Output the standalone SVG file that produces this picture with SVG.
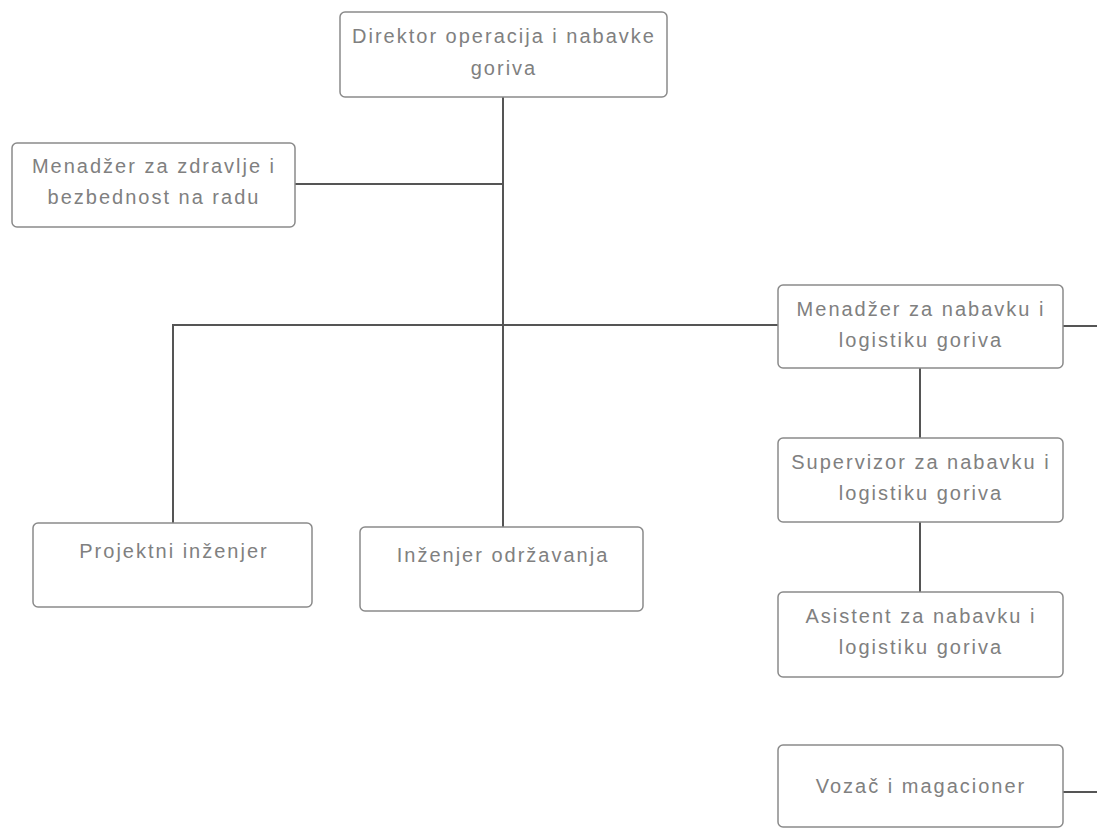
<svg xmlns="http://www.w3.org/2000/svg" width="1097" height="828" viewBox="0 0 1097 828">
<style>
.box{fill:#fff;stroke:#8a8a8a;stroke-width:1.5}
.t{font-family:"Liberation Sans",Arial,sans-serif;font-size:20px;fill:#808080;text-anchor:middle;letter-spacing:2px}
.c{stroke:#555;stroke-width:2;fill:none}
</style>
<rect width="1097" height="828" fill="#fff"/>
<g id="connectors">
<path class="c" d="M503 97V527"/>
<path class="c" d="M295 184H503"/>
<path class="c" d="M173 523V325H778"/>
<path class="c" d="M1063 326H1097"/>
<path class="c" d="M920 368V438"/>
<path class="c" d="M920 522V592"/>
<path class="c" d="M1063 792H1097"/>
</g>
<g id="director">
<rect class="box" x="340" y="12" width="327" height="85" rx="5"/>
<text class="t" x="504" y="43">Direktor operacija i nabavke</text>
<text class="t" x="504" y="75">goriva</text>
</g>
<g id="health">
<rect class="box" x="12" y="143" width="283" height="84" rx="5"/>
<text class="t" x="154" y="173">Menadžer za zdravlje i</text>
<text class="t" x="154" y="204">bezbednost na radu</text>
</g>
<g id="procurement-manager">
<rect class="box" x="778" y="285" width="285" height="83" rx="5"/>
<text class="t" x="921" y="316">Menadžer za nabavku i</text>
<text class="t" x="921" y="347">logistiku goriva</text>
</g>
<g id="project-engineer">
<rect class="box" x="33" y="523" width="279" height="84" rx="5"/>
<text class="t" x="174" y="558">Projektni inženjer</text>
</g>
<g id="maintenance-engineer">
<rect class="box" x="360" y="527" width="283" height="84" rx="5"/>
<text class="t" x="503" y="562">Inženjer održavanja</text>
</g>
<g id="supervisor">
<rect class="box" x="778" y="438" width="285" height="84" rx="5"/>
<text class="t" x="921" y="469">Supervizor za nabavku i</text>
<text class="t" x="921" y="500">logistiku goriva</text>
</g>
<g id="assistant">
<rect class="box" x="778" y="592" width="285" height="85" rx="5"/>
<text class="t" x="921" y="623">Asistent za nabavku i</text>
<text class="t" x="921" y="654">logistiku goriva</text>
</g>
<g id="driver">
<rect class="box" x="778" y="745" width="285" height="82" rx="5"/>
<text class="t" x="921" y="793">Vozač i magacioner</text>
</g>
</svg>
